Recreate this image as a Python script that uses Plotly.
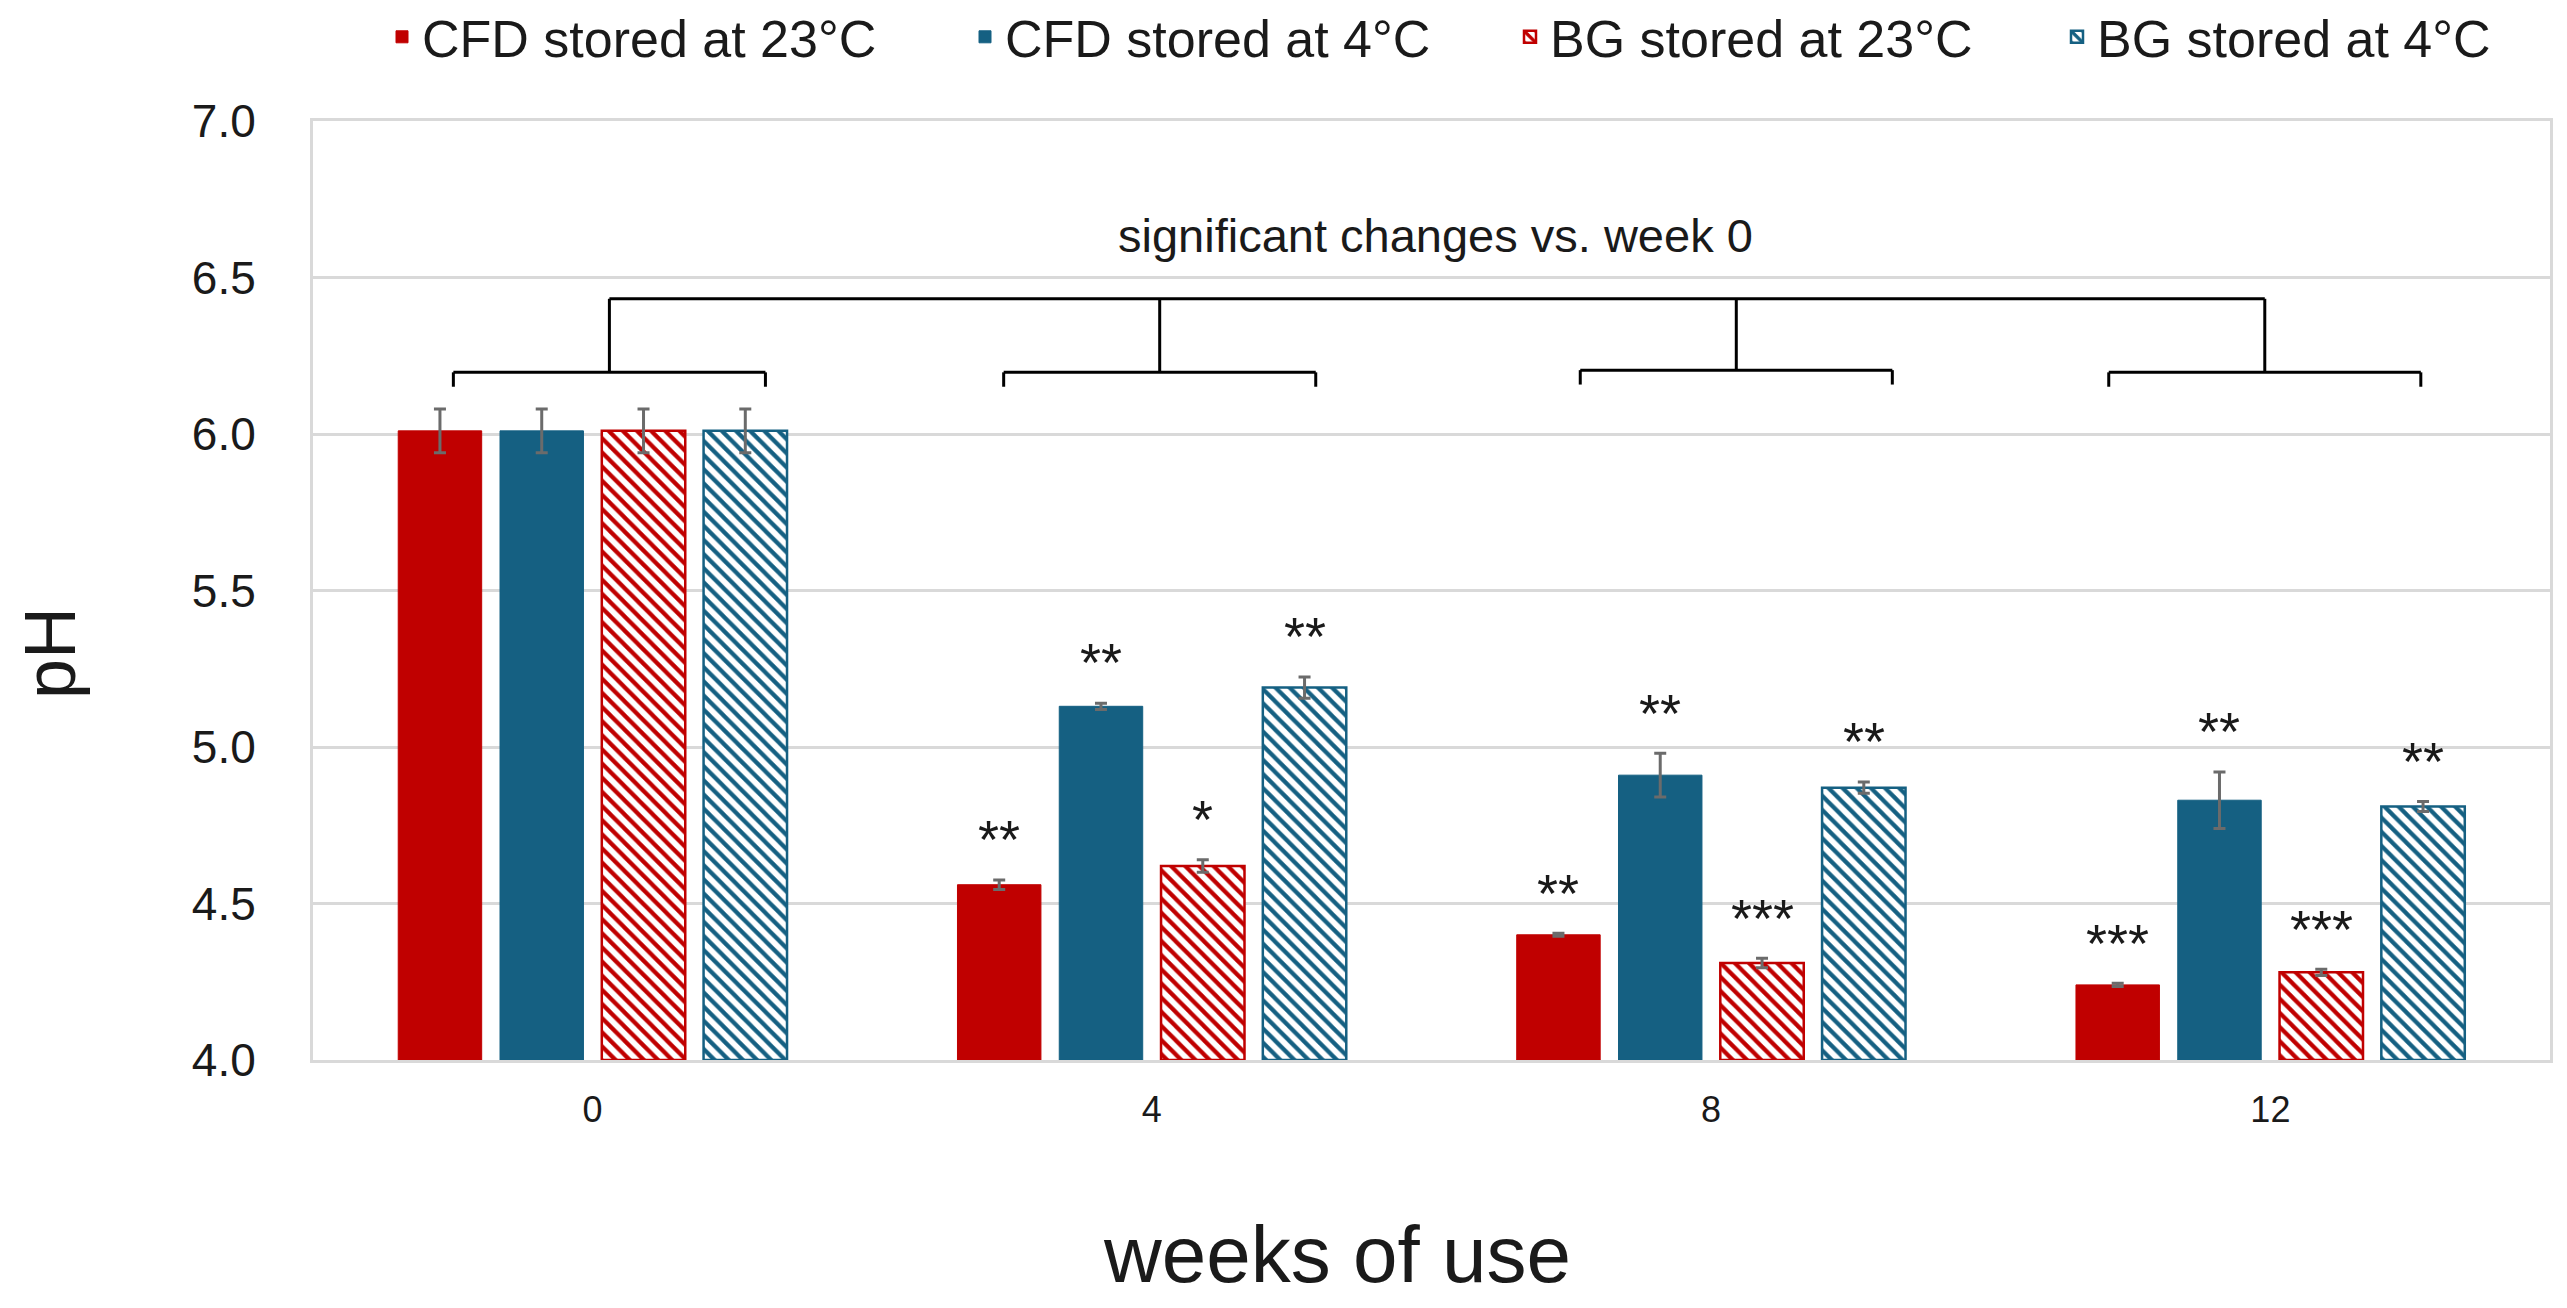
import plotly.graph_objects as go

# ---- data ----
WEEKS = ["0", "4", "8", "12"]
SERIES = ["CFD stored at 23°C", "CFD stored at 4°C", "BG stored at 23°C", "BG stored at 4°C"]

CFD_23 = [6.01, 4.56, 4.40, 4.24]
CFD_4 = [6.01, 5.13, 4.91, 4.83]
BG_23 = [6.01, 4.62, 4.31, 4.28]
BG_4 = [6.01, 5.19, 4.87, 4.81]

CFD_23_ERR = [0.07, 0.015, 0.005, 0.005]
CFD_4_ERR = [0.07, 0.01, 0.07, 0.09]
BG_23_ERR = [0.07, 0.02, 0.015, 0.01]
BG_4_ERR = [0.07, 0.034, 0.018, 0.016]

CFD_23_SIG = ["", "**", "**", "***"]
CFD_4_SIG = ["", "**", "**", "**"]
BG_23_SIG = ["", "*", "***", "***"]
BG_4_SIG = ["", "**", "**", "**"]

Y_TICKS = [4.0, 4.5, 5.0, 5.5, 6.0, 6.5, 7.0]

# bracket geometry (data units)
BRACKET_CENTERS = [0.03, 1.014, 2.045, 2.99]
BRACKET_HALF = 0.279
BRACKET_LEVEL = [6.197, 6.197, 6.204, 6.197]
BRACKET_TIP = 0.046
BRACKET_TOP = 6.432
BRACKET_TEXT = "significant changes vs. week 0"

# ---- style ----
RED = "#C00000"
BLUE = "#156082"
FONT = "Liberation Sans, Arial, sans-serif"
TXT = "#1a1a1a"
GRID = "#D9D9D9"
ERR_COL = "#6b6b6b"

BARGAP = 0.272
BARGROUPGAP = 0.18

# page body offset (default 8px body margin)
OFF = 8
W, H = 2551, 1292
ML, MT = 313 - OFF, 121 - OFF
PLOT_RIGHT, PLOT_BOTTOM = 2550 - OFF, 1060 - OFF
MR, MB = W - PLOT_RIGHT, H - PLOT_BOTTOM
PW = PLOT_RIGHT - ML
PH = PLOT_BOTTOM - MT


def px_x(page_x):
    return (page_x - OFF - ML) / PW


def px_y(page_y):
    return (PLOT_BOTTOM - (page_y - OFF)) / PH


xpos = list(range(len(WEEKS)))

values = [CFD_23, CFD_4, BG_23, BG_4]
errors = [CFD_23_ERR, CFD_4_ERR, BG_23_ERR, BG_4_ERR]
sigs = [CFD_23_SIG, CFD_4_SIG, BG_23_SIG, BG_4_SIG]
colors = [RED, BLUE, RED, BLUE]
hatched = [False, False, True, True]
legend_ids = ["legend", "legend2", "legend3", "legend4"]

fig = go.Figure()
for k in range(4):
    if hatched[k]:
        marker = dict(
            color="white",
            line=dict(color=colors[k], width=2.5),
            pattern=dict(shape="\\", fgcolor=colors[k], bgcolor="white",
                         size=10, solidity=0.42, fillmode="replace"),
        )
    else:
        marker = dict(color=colors[k], line=dict(color=colors[k], width=1))
    fig.add_trace(go.Bar(
        x=xpos, y=[v - 4.0 for v in values[k]], base=4.0,
        name=SERIES[k], marker=marker, legend=legend_ids[k],
        error_y=dict(type="data", array=errors[k], visible=True,
                     color=ERR_COL, thickness=3, width=6),
    ))

# significance stars
slot = (1 - BARGAP) / 4
for k in range(4):
    off = (k - 1.5) * slot
    for i, s in enumerate(sigs[k]):
        if not s:
            continue
        fig.add_annotation(
            x=xpos[i] + off, y=values[k][i] + errors[k][i] + 0.13,
            xref="x", yref="y", text=s, showarrow=False,
            font=dict(family=FONT, size=54, color=TXT),
            xanchor="center", yanchor="middle",
        )

# brackets
line_style = dict(color="black", width=3)
for c, lvl in zip(BRACKET_CENTERS, BRACKET_LEVEL):
    l, r = c - BRACKET_HALF, c + BRACKET_HALF
    fig.add_shape(type="line", x0=l, x1=r, y0=lvl, y1=lvl, xref="x", yref="y", line=line_style)
    fig.add_shape(type="line", x0=l, x1=l, y0=lvl, y1=lvl - BRACKET_TIP, xref="x", yref="y", line=line_style)
    fig.add_shape(type="line", x0=r, x1=r, y0=lvl, y1=lvl - BRACKET_TIP, xref="x", yref="y", line=line_style)
    fig.add_shape(type="line", x0=c, x1=c, y0=lvl, y1=BRACKET_TOP, xref="x", yref="y", line=line_style)
fig.add_shape(type="line", x0=BRACKET_CENTERS[0], x1=BRACKET_CENTERS[-1],
              y0=BRACKET_TOP, y1=BRACKET_TOP, xref="x", yref="y", line=line_style)
fig.add_annotation(x=1.507, y=6.635, xref="x", yref="y", text=BRACKET_TEXT,
                   showarrow=False, font=dict(family=FONT, size=47, color=TXT),
                   xanchor="center", yanchor="middle")

# axis titles as annotations
fig.add_annotation(x=px_x(1337), y=px_y(1254), xref="paper", yref="paper",
                   text="weeks of use", showarrow=False,
                   font=dict(family=FONT, size=80, color=TXT), xanchor="center", yanchor="middle")
fig.add_annotation(x=px_x(50), y=px_y(653), xref="paper", yref="paper",
                   text="pH", showarrow=False, textangle=-90,
                   font=dict(family=FONT, size=72, color=TXT), xanchor="center", yanchor="middle")

# legends
legend_px = [382, 965, 1510, 2057]
legend_common = dict(orientation="h", font=dict(family=FONT, size=52, color=TXT),
                     bgcolor="rgba(0,0,0,0)", yanchor="middle", xanchor="left",
                     y=px_y(37), itemwidth=30)
layout_legends = {}
for lid, px in zip(legend_ids, legend_px):
    layout_legends[lid] = dict(legend_common, x=px_x(px))

fig.update_layout(
    width=W, height=H,
    margin=dict(l=ML, r=MR, t=MT, b=MB, pad=0, autoexpand=False),
    paper_bgcolor="white", plot_bgcolor="white",
    barmode="group", bargap=BARGAP, bargroupgap=BARGROUPGAP,
    showlegend=True,
    font=dict(family=FONT, color=TXT),
    **layout_legends,
)
fig.update_xaxes(
    range=[-0.5, 3.5], tickvals=xpos, ticktext=WEEKS,
    tickfont=dict(family=FONT, size=36, color=TXT),
    showgrid=False, zeroline=False, showline=True, linecolor=GRID, linewidth=3,
    mirror=True, ticks="", ticklabelstandoff=16,
)
fig.update_yaxes(
    range=[4.0, 7.0], tickvals=Y_TICKS, tickformat=".1f",
    tickfont=dict(family=FONT, size=46, color=TXT),
    showgrid=True, gridcolor=GRID, gridwidth=3, zeroline=False,
    showline=True, linecolor=GRID, linewidth=3, mirror=True, ticks="",
    ticklabelstandoff=45,
)

fig.write_html("out.html")
